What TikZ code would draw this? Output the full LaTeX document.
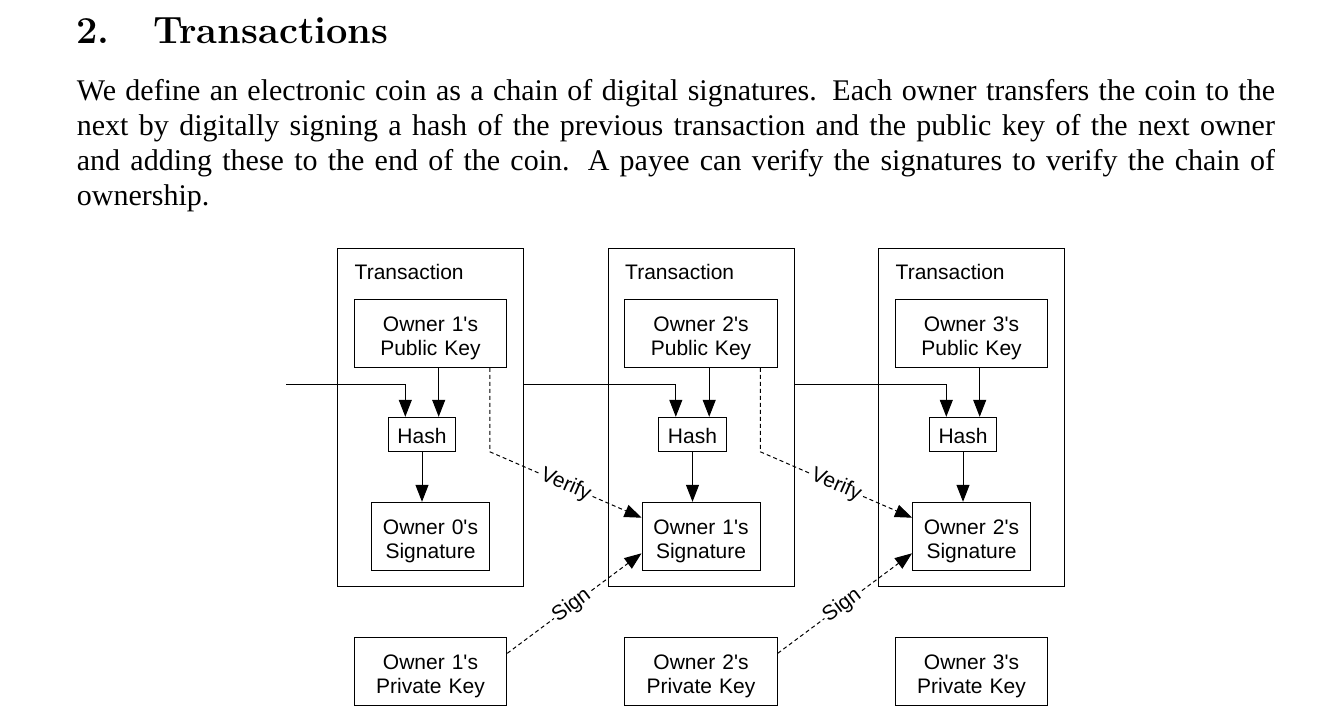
\documentclass[tikz,border=0pt]{standalone}
\usepackage{fontspec}
\usepackage{tikz}
\usetikzlibrary{arrows.meta,calc,positioning}
\usepackage{xcolor}

\newfontfamily\bodyfont{Liberation Serif}
\newfontfamily\diagfont{Liberation Sans}

\tikzset{
    txt/.style={inner sep=0pt, anchor=base west},
    head/.style={txt, font=\fontsize{38}{42}\selectfont\bfseries},
    para/.style={txt, font=\bodyfont\fontsize{30}{35}\selectfont},
    box/.style={draw, line width=1pt, inner sep=0pt, align=center,
        font=\diagfont\fontsize{21}{24}\selectfont},
    txbox/.style={draw, line width=1pt, minimum width=186pt, minimum height=338.5pt},
    keybox/.style={box, text width=152.5pt, minimum width=152.5pt, minimum height=68pt,
        text height=16pt, text depth=20pt},
    hashbox/.style={box, minimum width=67.5pt, minimum height=34pt,
        text height=19pt, text depth=0pt},
    sigbox/.style={box, text width=118pt, minimum width=118pt, minimum height=68pt,
        text height=16pt, text depth=20pt},
    txlabel/.style={txt, font=\diagfont\fontsize{21}{24}\selectfont},
    link/.style={line width=1pt, -{Triangle[length=17pt,width=13pt]}},
    dashlink/.style={link, dash pattern=on 4pt off 3pt},
    lbl/.style={sloped, fill=white, inner sep=1pt, font=\diagfont\fontsize{21}{24}\selectfont}
}

\begin{document}
\begin{tikzpicture}[x=1pt,y=-1pt]
    \useasboundingbox (0,0) rectangle (1335,720);
    % heading and text
    \node[head] (secnum) at (76,43.3) {2.};
    \node[head] (sectitle) at (153,43.3) {Transactions};
    \node[para] (line1) at (76.7,100) {\makebox[1198pt][s]{We define an electronic coin as a chain of digital signatures. Each owner transfers the coin to the}};
    \node[para] (line2) at (76.7,135) {\makebox[1198pt][s]{next by digitally signing a hash of the previous transaction and the public key of the next owner}};
    \node[para] (line3) at (76.7,170) {\makebox[1198pt][s]{and adding these to the end of the coin. A payee can verify the signatures to verify the chain of}};
    \node[para] (line4) at (76.7,205) {ownership.};

    % transactions
    \node[txbox] (tx1) at (430.5,417.5) {};
    \node[txbox] (tx2) at (701,417.5) {};
    \node[txbox] (tx3) at (971.5,417.5) {};
    \node[txlabel] at ($(tx1.north west)+(17.5,32)$) {Transaction};
    \node[txlabel] at ($(tx2.north west)+(17.5,32)$) {Transaction};
    \node[txlabel] at ($(tx3.north west)+(17.5,32)$) {Transaction};

    \node[keybox] (pub1) at (430.5,333.3) {Owner 1\textquotesingle s\\Public Key};
    \node[keybox] (pub2) at (701,333.3) {Owner 2\textquotesingle s\\Public Key};
    \node[keybox] (pub3) at (971.5,333.3) {Owner 3\textquotesingle s\\Public Key};
    \node[hashbox] (hash1) at (422,434.3) {Hash};
    \node[hashbox] (hash2) at (692.5,434.3) {Hash};
    \node[hashbox] (hash3) at (963,434.3) {Hash};
    \node[sigbox] (sig1) at (430.5,536.3) {Owner 0\textquotesingle s\\Signature};
    \node[sigbox] (sig2) at (701,536.3) {Owner 1\textquotesingle s\\Signature};
    \node[sigbox] (sig3) at (971.5,536.3) {Owner 2\textquotesingle s\\Signature};
    \node[keybox] (priv1) at (430.5,671.3) {Owner 1\textquotesingle s\\Private Key};
    \node[keybox] (priv2) at (701,671.3) {Owner 2\textquotesingle s\\Private Key};
    \node[keybox] (priv3) at (971.5,671.3) {Owner 3\textquotesingle s\\Private Key};

    % hash inputs
    \coordinate (start) at (286,384.3);
    \coordinate (in1) at ($(hash1.north)+(-16.7,0)$);
    \coordinate (in2) at ($(hash2.north)+(-16.7,0)$);
    \coordinate (in3) at ($(hash3.north)+(-16.7,0)$);
    \coordinate (key1) at ($(hash1.north)+(16.7,0)$);
    \coordinate (key2) at ($(hash2.north)+(16.7,0)$);
    \coordinate (key3) at ($(hash3.north)+(16.7,0)$);
    \draw[link] (start) -| (in1);
    \draw[link] (tx1.east |- start) -| (in2);
    \draw[link] (tx2.east |- start) -| (in3);
    \draw[link] (pub1.south -| key1) -- (key1);
    \draw[link] (pub2.south -| key2) -- (key2);
    \draw[link] (pub3.south -| key3) -- (key3);
    \draw[link] (hash1.south) -- (hash1.south |- sig1.north);
    \draw[link] (hash2.south) -- (hash2.south |- sig2.north);
    \draw[link] (hash3.south) -- (hash3.south |- sig3.north);

    % verify and sign
    \coordinate (ver1) at ($(pub1.south east)+(-17.4,0)$);
    \coordinate (ver2) at ($(pub2.south east)+(-17.4,0)$);
    \draw[dashlink] (ver1) -- (ver1 |- hash1.south) -- node[lbl] {Verify} ($(sig2.west)+(0,-18.6)$);
    \draw[dashlink] (ver2) -- (ver2 |- hash2.south) -- node[lbl] {Verify} ($(sig3.west)+(0,-18.6)$);
    \draw[dashlink] ($(priv1.east)+(0,-18)$) -- node[lbl, pos=0.48] {Sign} ($(sig2.west)+(0,17)$);
    \draw[dashlink] ($(priv2.east)+(0,-18)$) -- node[lbl, pos=0.48] {Sign} ($(sig3.west)+(0,17)$);
\end{tikzpicture}
\end{document}
